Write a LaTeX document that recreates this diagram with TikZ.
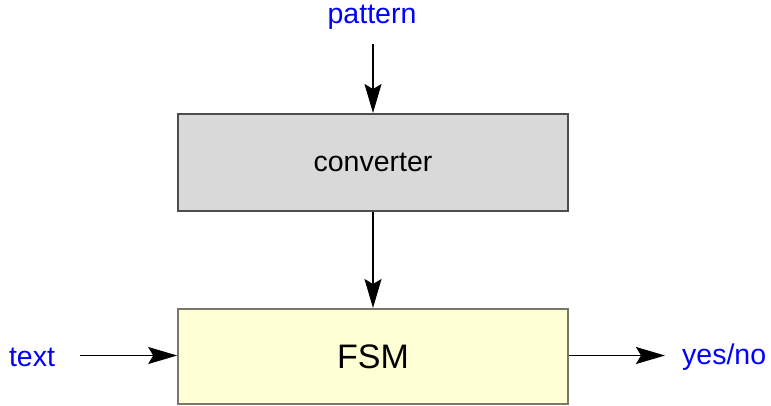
\documentclass[tikz,border=0pt]{standalone}
\usepackage{fontspec}
\setmainfont{Liberation Sans}
\usetikzlibrary{arrows.meta}
\definecolor{boxgray}{HTML}{D9D9D9}
\definecolor{boxyellow}{HTML}{FFFFD6}
\definecolor{edgegray}{HTML}{4D4D4D}
\definecolor{edgeolive}{HTML}{77776A}
\definecolor{labelblue}{HTML}{0000FF}
\begin{document}
\begin{tikzpicture}[x=1pt,y=-1pt,
  block/.style={draw, line width=1.6pt, minimum width=390pt, inner sep=0pt, anchor=north},
  iolabel/.style={text=labelblue, font=\fontsize{28.5}{34}\selectfont, inner sep=0pt},
  flow/.style={line width=1.4pt, -{Stealth[length=29pt,width=17pt,inset=5pt]}}]
  \useasboundingbox (0,0) rectangle (771,405);
  % processing blocks
  \node[block, fill=boxgray, draw=edgegray, minimum height=97pt,
        font=\fontsize{28.5}{34}\selectfont] (conv) at (373,113) {converter};
  \node[block, fill=boxyellow, draw=edgeolive, minimum height=95pt,
        font=\fontsize{34}{40}\selectfont] (fsm) at (373,308) {FSM};
  % inputs and output
  \node[iolabel] (pat) at (372,17) {pattern};
  \node[iolabel] (txt) at (32,357) {text};
  \node[iolabel, anchor=west] (yn) at (682,357) {yes/no};
  \coordinate (patend) at (373,44);
  \coordinate (txtend) at (80,355.5);
  \coordinate (ynend) at (665,355.5);
  % connectors
  \draw[flow] (patend) -- (conv.north);
  \draw[flow] (conv.south) -- (fsm.north);
  \draw[flow] (txtend) -- (txtend -| fsm.west);
  \draw[flow] (ynend -| fsm.east) -- (ynend);
\end{tikzpicture}
\end{document}
